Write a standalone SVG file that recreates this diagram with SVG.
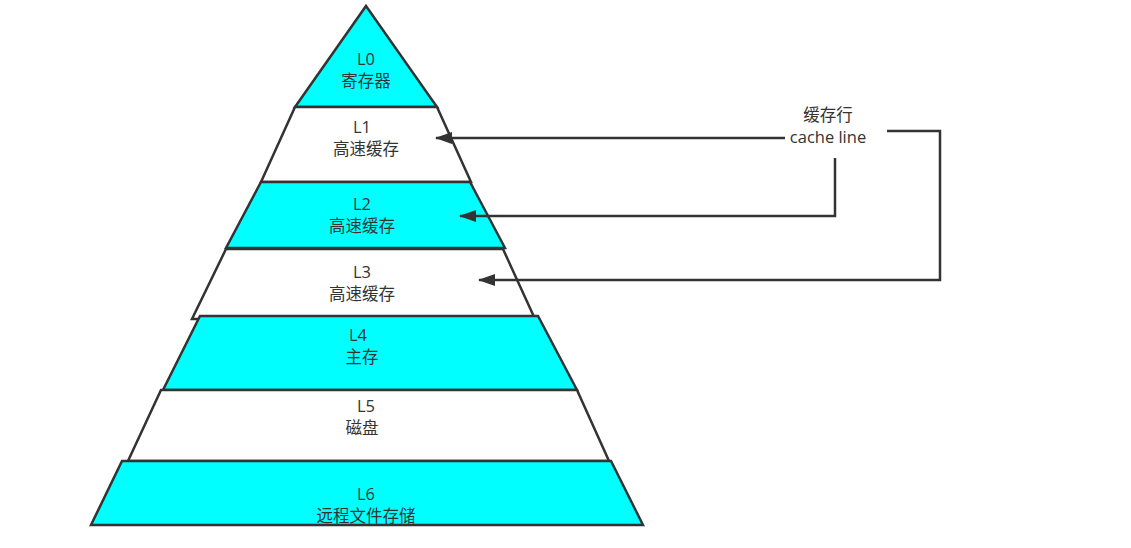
<svg xmlns="http://www.w3.org/2000/svg" width="1131" height="548" viewBox="0 0 1131 548">
<style>
.s{stroke:#333;stroke-width:2.5;stroke-linejoin:miter}
.c{fill:#00ffff}
.w{fill:#ffffff}
text{font-family:"Open Sans","Noto Sans CJK SC",sans-serif;font-size:16.5px;fill:#333;text-anchor:middle}
.ln{fill:none;stroke:#333;stroke-width:2.5}
</style>
<defs>
<marker id="ah" markerWidth="17" markerHeight="12" refX="16" refY="6" orient="auto" markerUnits="userSpaceOnUse">
<path d="M17,6 L0,0 L0,12 Z" fill="#333"/>
</marker>
</defs>
<rect width="1131" height="548" fill="#ffffff"/>
<g id="L0"><polygon class="s c" points="366,6 437,107 295,107"/><text x="366" y="65">L0</text><text x="366" y="87">寄存器</text></g>
<g id="L1"><polygon class="s w" points="295,107 437,107 471,182 261,182"/><text x="362" y="133">L1</text><text x="366" y="155">高速缓存</text></g>
<g id="L2"><polygon class="s c" points="261,182 470,182 505,248 226,248"/><text x="362" y="210">L2</text><text x="362" y="232">高速缓存</text></g>
<g id="L3"><polygon class="s w" points="226,249 503,249 535,319 192,319"/><text x="362" y="278">L3</text><text x="362" y="300">高速缓存</text></g>
<g id="L4"><polygon class="s c" points="200,316 538,316 577,390 163,390"/><text x="358" y="341">L4</text><text x="362" y="363">主存</text></g>
<g id="L5"><polygon class="s w" points="161,390 577,390 609,461 128,461"/><text x="366" y="412">L5</text><text x="362" y="434">磁盘</text></g>
<g id="L6"><polygon class="s c" points="122,461 611,461 643,525 91,525"/><text x="366" y="500">L6</text><text x="366" y="522">远程文件存储</text></g>
<g id="label"><text x="828" y="121">缓存行</text><text x="828" y="143">cache line</text></g>
<g id="connectors">
<path class="ln" d="M785,138 L436,138" marker-end="url(#ah)"/>
<path class="ln" d="M835,158 L835,216 L460,216" marker-end="url(#ah)"/>
<path class="ln" d="M887,131 L940,131 L940,280 L479,280" marker-end="url(#ah)"/>
</g>
</svg>
